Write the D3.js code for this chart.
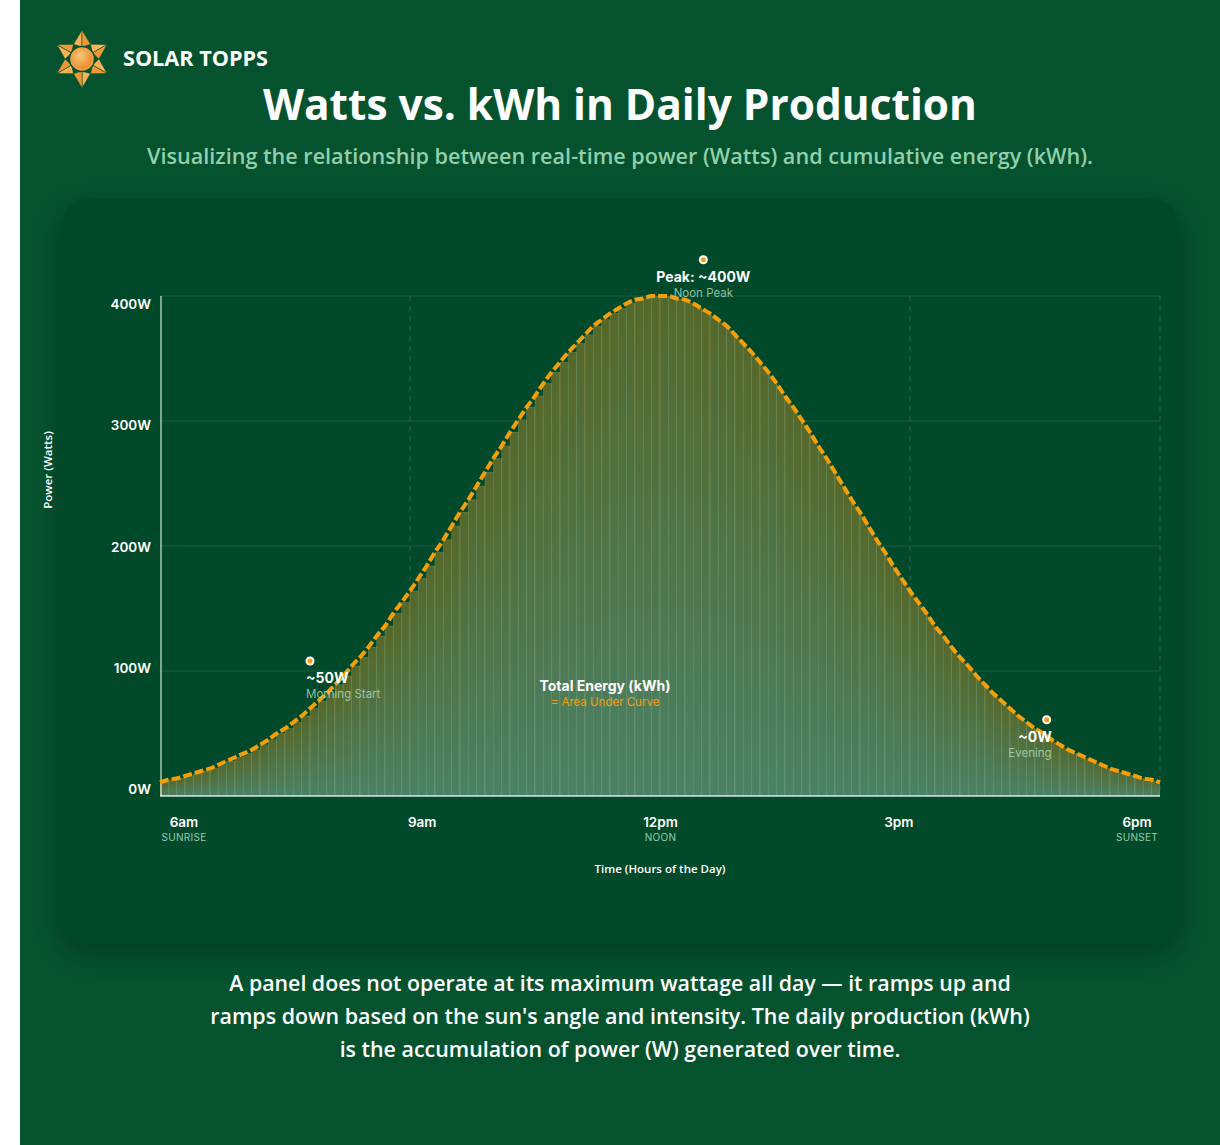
<!doctype html>
<html lang="en">
<head>
<meta charset="utf-8">
<title>Watts vs. kWh in Daily Production</title>
<script src="https://cdn.jsdelivr.net/npm/d3@7"></script>
<style>
  html, body { margin: 0; padding: 0; background: #ffffff; }
  svg { display: block; }
</style>
</head>
<body>
<script>

// power readings, one every 6 minutes from 6am to 6pm (W)
var startHour = 6;
var stepHours = 0.1;
var watts = [
  11, 13, 14, 16, 18, 20, 22, 25, 28, 31,
  34, 37, 41, 45, 50, 54, 59, 64, 70, 76,
  82, 89, 96, 104, 111, 119, 128, 136, 146, 155,
  164, 174, 184, 195, 205, 216, 227, 237, 248, 259,
  270, 280, 291, 301, 311, 320, 330, 339, 347, 355,
  362, 369, 376, 381, 386, 390, 394, 397, 398, 400,
  400,
  400, 398, 397, 394, 390, 386, 381, 376, 369, 362,
  355, 347, 339, 330, 320, 311, 301, 291, 280, 270,
  259, 248, 237, 227, 216, 205, 195, 184, 174, 164,
  155, 146, 136, 128, 119, 111, 104, 96, 89, 82,
  76, 70, 64, 59, 54, 50, 45, 41, 37, 34,
  31, 28, 25, 22, 20, 18, 16, 14, 13, 11
];

var yTicks = [0, 100, 200, 300, 400];
var yTickLabels = ["0W", "100W", "200W", "300W", "400W"];

var xTicks = [6, 9, 12, 15, 18];
var xTickLabels = ["6am", "9am", "12pm", "3pm", "6pm"];
var xTickSubs = ["SUNRISE", "", "NOON", "", "SUNSET"];

var notes = [
  { hour: 7.8, watts: 108, title: "~50W", sub: "Morning Start", anchor: "start" },
  { hour: 12.52, watts: 429, title: "Peak: ~400W", sub: "Noon Peak", anchor: "middle" },
  { hour: 16.64, watts: 61, title: "~0W", sub: "Evening", anchor: "end" }
];

var paragraph = [
  "A panel does not operate at its maximum wattage all day \u2014 it ramps up and",
  "ramps down based on the sun's angle and intensity. The daily production (kWh)",
  "is the accumulation of power (W) generated over time."
];

var width = 1220;
var height = 1145;

var BG = "#05522f";
var CARD = "#044a2a";
var ORANGE = "#f59e0b";
var MINT = "#92cfaa";
var HEAD = "'Open Sans', 'DejaVu Sans', sans-serif";
var BODY = "Inter, 'Noto Sans', sans-serif";

var points = watts.map(function(w, i) { return { hour: startHour + i * stepHours, watts: w }; });

// squeeze a text element so it covers the width the reference uses
function fit(sel, w) {
  var len = sel.node().getComputedTextLength();
  var fs = parseFloat(sel.attr("font-size"));
  sel.attr("font-size", (fs * w / len).toFixed(2));
}

var svg = d3.select("body").append("svg")
    .attr("width", width)
    .attr("height", height);

var defs = svg.append("defs");

var shadow = defs.append("filter").attr("id", "shadow")
    .attr("x", "-10%").attr("y", "-10%").attr("width", "120%").attr("height", "125%");
shadow.append("feDropShadow")
    .attr("dx", 0).attr("dy", 10).attr("stdDeviation", 14)
    .attr("flood-color", "#000").attr("flood-opacity", 0.28);

var barGrad = defs.append("linearGradient").attr("id", "barGrad")
    .attr("x1", 0).attr("y1", 0).attr("x2", 0).attr("y2", 1);
barGrad.append("stop").attr("offset", "0%").attr("stop-color", "#56682a");
barGrad.append("stop").attr("offset", "100%").attr("stop-color", "#4b8166");

var sunGrad = defs.append("radialGradient").attr("id", "sunGrad")
    .attr("cx", "40%").attr("cy", "35%").attr("r", "70%");
sunGrad.append("stop").attr("offset", "0%").attr("stop-color", "#fcc77a");
sunGrad.append("stop").attr("offset", "100%").attr("stop-color", "#e8862a");

// background
svg.append("rect")
    .attr("x", 20).attr("y", 0)
    .attr("width", width - 20).attr("height", height)
    .attr("fill", BG);

// ---------- logo ----------
var logo = svg.append("g").attr("transform", "translate(82,59)");
var R = 29, rIn = 17, rCore = 12;
d3.range(6).forEach(function(k) {
  var a = (-90 + k * 60) * Math.PI / 180;
  var a1 = a - Math.PI / 6, a2 = a + Math.PI / 6;
  var tip = [R * Math.cos(a), R * Math.sin(a)];
  var left = [rIn * Math.cos(a1), rIn * Math.sin(a1)];
  var right = [rIn * Math.cos(a2), rIn * Math.sin(a2)];
  var core = [rCore * Math.cos(a), rCore * Math.sin(a)];
  logo.append("polygon")
      .attr("points", [tip, left, core].join(" "))
      .attr("fill", "#f9b356").attr("stroke", BG).attr("stroke-width", 0.6);
  logo.append("polygon")
      .attr("points", [tip, right, core].join(" "))
      .attr("fill", "#f09838").attr("stroke", BG).attr("stroke-width", 0.6);
});
logo.append("circle").attr("r", 12.5).attr("fill", "#f3a043").attr("stroke", BG).attr("stroke-width", 1.5);
logo.append("circle").attr("r", 10).attr("fill", "url(#sunGrad)");

var brand = svg.append("text")
    .attr("x", 123).attr("y", 66)
    .attr("font-family", HEAD).attr("font-weight", 700).attr("font-size", 18)
    .attr("fill", "#ffffff")
    .text("SOLAR TOPPS");
fit(brand, 145);

// ---------- titles ----------
var title = svg.append("text")
    .attr("x", 620).attr("y", 120)
    .attr("text-anchor", "middle")
    .attr("font-family", HEAD).attr("font-weight", 700).attr("font-size", 38)
    .attr("fill", "#ffffff")
    .text("Watts vs. kWh in Daily Production");
fit(title, 714);

var subtitle = svg.append("text")
    .attr("x", 620).attr("y", 164)
    .attr("text-anchor", "middle")
    .attr("font-family", HEAD).attr("font-weight", 600).attr("font-size", 18)
    .attr("fill", MINT)
    .text("Visualizing the relationship between real-time power (Watts) and cumulative energy (kWh).");
fit(subtitle, 946);

// ---------- card ----------
svg.append("rect")
    .attr("x", 60).attr("y", 198)
    .attr("width", 1120).attr("height", 746)
    .attr("rx", 30)
    .attr("fill", CARD)
    .attr("filter", "url(#shadow)");

// ---------- chart ----------
var x = d3.scaleLinear().domain([6, 18]).range([160, 1160]);
var y = d3.scaleLinear().domain([0, 400]).range([796, 296]);

// tick labels are spread evenly along each axis
var yLabel = d3.scaleLinear().domain([0, 400]).range([794, 309]);
var xLabel = d3.scalePoint().domain(xTicks).range([184, 1137]);

var chart = svg.append("g");

// horizontal grid
chart.selectAll(".hgrid")
    .data(yTicks.filter(function(d) { return d > 0; }))
    .enter().append("line")
    .attr("x1", x(6)).attr("x2", x(18))
    .attr("y1", function(d) { return y(d); })
    .attr("y2", function(d) { return y(d); })
    .attr("stroke", "rgba(255,255,255,0.12)")
    .attr("stroke-width", 1);

// vertical dashed grid
chart.selectAll(".vgrid")
    .data(xTicks.slice(1))
    .enter().append("line")
    .attr("x1", function(d) { return x(d); })
    .attr("x2", function(d) { return x(d); })
    .attr("y1", y(400)).attr("y2", y(0))
    .attr("stroke", "rgba(255,255,255,0.16)")
    .attr("stroke-dasharray", "5 5")
    .attr("stroke-width", 1);

// area under the curve used as a clip for the bars
var area = d3.area()
    .x(function(d) { return x(d.hour); })
    .y0(y(0))
    .y1(function(d) { return y(d.watts); })
    .curve(d3.curveMonotoneX);

defs.append("clipPath").attr("id", "underCurve")
    .append("path").attr("d", area(points));

chart.append("g")
    .attr("clip-path", "url(#underCurve)")
    .selectAll("rect")
    .data(points.slice(0, points.length - 1))
    .enter().append("rect")
    .attr("x", function(d) { return x(d.hour); })
    .attr("width", function(d) { return x(d.hour + stepHours) - x(d.hour); })
    .attr("y", function(d) { return y(d.watts); })
    .attr("height", function(d) { return y(0) - y(d.watts); })
    .attr("fill", "url(#barGrad)")
    .attr("stroke", "rgba(200,240,210,0.2)")
    .attr("stroke-width", 0.8);

// axes
chart.append("line")
    .attr("x1", x(6) + 1).attr("x2", x(6) + 1)
    .attr("y1", y(400)).attr("y2", y(0))
    .attr("stroke", "rgba(255,255,255,0.5)").attr("stroke-width", 2);
chart.append("line")
    .attr("x1", x(6)).attr("x2", x(18))
    .attr("y1", y(0)).attr("y2", y(0))
    .attr("stroke", "rgba(255,255,255,0.62)").attr("stroke-width", 2);

// power curve
var line = d3.line()
    .x(function(d) { return x(d.hour); })
    .y(function(d) { return y(d.watts); })
    .curve(d3.curveMonotoneX);

chart.append("path")
    .attr("d", line(points))
    .attr("fill", "none")
    .attr("stroke", ORANGE)
    .attr("stroke-width", 4)
    .attr("stroke-dasharray", "9 3");

// y labels
chart.selectAll(".ylab")
    .data(yTicks)
    .enter().append("text")
    .attr("x", 151)
    .attr("y", function(d) { return yLabel(d); })
    .attr("text-anchor", "end")
    .attr("font-family", BODY).attr("font-weight", 600).attr("font-size", 13.5)
    .attr("fill", "#ffffff")
    .text(function(d, i) { return yTickLabels[i]; });

// x labels
chart.selectAll(".xlab")
    .data(xTicks)
    .enter().append("text")
    .attr("x", function(d) { return xLabel(d); })
    .attr("y", 827)
    .attr("text-anchor", "middle")
    .attr("font-family", BODY).attr("font-weight", 600).attr("font-size", 13.5)
    .attr("fill", "#ffffff")
    .text(function(d, i) { return xTickLabels[i]; });

chart.selectAll(".xsub")
    .data(xTicks)
    .enter().append("text")
    .attr("x", function(d) { return xLabel(d); })
    .attr("y", 841)
    .attr("text-anchor", "middle")
    .attr("font-family", BODY).attr("font-weight", 400).attr("font-size", 10)
    .attr("letter-spacing", 0.3)
    .attr("fill", MINT)
    .text(function(d, i) { return xTickSubs[i]; });

// axis titles
svg.append("text")
    .attr("transform", "translate(52,470) rotate(-90)")
    .attr("text-anchor", "middle")
    .attr("font-family", HEAD).attr("font-weight", 600).attr("font-size", 11.5)
    .attr("fill", "#ffffff")
    .text("Power (Watts)");

svg.append("text")
    .attr("x", 660).attr("y", 873)
    .attr("text-anchor", "middle")
    .attr("font-family", HEAD).attr("font-weight", 600).attr("font-size", 11.5)
    .attr("fill", "#ffffff")
    .text("Time (Hours of the Day)");

// energy label in the middle of the area
svg.append("text")
    .attr("x", 605).attr("y", 691)
    .attr("text-anchor", "middle")
    .attr("font-family", BODY).attr("font-weight", 700).attr("font-size", 14)
    .attr("fill", "#ffffff")
    .text("Total Energy (kWh)");
svg.append("text")
    .attr("x", 605).attr("y", 706)
    .attr("text-anchor", "middle")
    .attr("font-family", BODY).attr("font-weight", 400).attr("font-size", 11.5)
    .attr("fill", ORANGE)
    .text("= Area Under Curve");

// annotations
var shift = { start: -4, middle: 0, end: 5 };
var note = chart.selectAll(".note")
    .data(notes)
    .enter().append("g")
    .attr("transform", function(d) { return "translate(" + x(d.hour) + "," + y(d.watts) + ")"; });

note.append("circle").attr("r", 4.5).attr("fill", "#ffffff");
note.append("circle").attr("r", 2.5).attr("fill", ORANGE);

note.append("text")
    .attr("x", function(d) { return shift[d.anchor]; })
    .attr("y", 22)
    .attr("text-anchor", function(d) { return d.anchor; })
    .attr("font-family", BODY).attr("font-weight", 700).attr("font-size", 14)
    .attr("fill", "#ffffff")
    .text(function(d) { return d.title; });

note.append("text")
    .attr("x", function(d) { return shift[d.anchor]; })
    .attr("y", 37)
    .attr("text-anchor", function(d) { return d.anchor; })
    .attr("font-family", BODY).attr("font-weight", 400).attr("font-size", 11.5)
    .attr("fill", "#a9d9bb")
    .attr("fill-opacity", 0.85)
    .text(function(d) { return d.sub; });

// closing paragraph
var widths = [782, 820, 561];
paragraph.forEach(function(t, i) {
  var p = svg.append("text")
      .attr("x", 620).attr("y", 991 + i * 33)
      .attr("text-anchor", "middle")
      .attr("font-family", HEAD).attr("font-weight", 600).attr("font-size", 18)
      .attr("fill", "#ffffff")
      .text(t);
  fit(p, widths[i]);
});

</script>
</body>
</html>
